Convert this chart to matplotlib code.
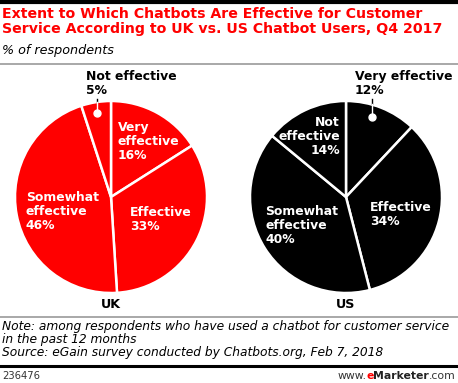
import matplotlib.pyplot as plt
from matplotlib.lines import Line2D

W, H = 458, 383

uk_labels = ["Very\neffective\n16%", "Effective\n33%", "Somewhat\neffective\n46%", "Not effective\n5%"]
uk_values = [16, 33, 46, 5]
us_labels = ["Very effective\n12%", "Effective\n34%", "Somewhat\neffective\n40%", "Not\neffective\n14%"]
us_values = [12, 34, 40, 14]

RED = "#ff0000"


def fx(x):
    return x / W


def fy(y):
    return 1 - y / H


fig = plt.figure(figsize=(W / 100, H / 100), dpi=100)
plt.rcParams["font.family"] = "DejaVu Sans"


def hline(y, color, lw, x0=0, x1=W):
    fig.add_artist(Line2D([fx(x0), fx(x1)], [fy(y), fy(y)], color=color, lw=lw,
                          transform=fig.transFigure))


def draw_pie(cx, cy, r, values, color):
    ax = fig.add_axes([fx(cx - r), fy(cy + r), 2 * r / W, 2 * r / H])
    ax.pie(values, colors=[color] * len(values), startangle=90, counterclock=False,
           wedgeprops=dict(edgecolor="white", linewidth=1.8))
    ax.set_xlim(-1, 1)
    ax.set_ylim(-1, 1)
    ax.set_aspect("auto")
    ax.axis("off")
    return ax


# frame lines
hline(1.5, "black", 3)
hline(64, "#999999", 1.2)
hline(317, "#999999", 1.2)
hline(366, "black", 2.2)

# title
fig.text(fx(2), fy(7), "Extent to Which Chatbots Are Effective for Customer\nService According to UK vs. US Chatbot Users, Q4 2017",
         color=RED, fontsize=10.2, fontweight="bold", va="top", ha="left", linespacing=1.12)
fig.text(fx(2), fy(44), "% of respondents", fontsize=9.2, style="italic", va="top", ha="left")

# pies
uk_cx, uk_cy, r = 111, 197, 96
us_cx, us_cy = 346, 197
draw_pie(uk_cx, uk_cy, r, uk_values, RED)
draw_pie(us_cx, us_cy, r, us_values, "black")

lab = dict(fontsize=8.9, fontweight="bold", va="top", linespacing=1.08)
fig.text(fx(118), fy(121), uk_labels[0], color="white", ha="left", **lab)
fig.text(fx(130), fy(206), uk_labels[1], color="white", ha="left", **lab)
fig.text(fx(26), fy(191), uk_labels[2], color="white", ha="left", **lab)
fig.text(fx(86), fy(70), uk_labels[3], color="black", ha="left", **lab)

fig.text(fx(355), fy(70), us_labels[0], color="black", ha="left", **lab)
fig.text(fx(370), fy(201), us_labels[1], color="white", ha="left", **lab)
fig.text(fx(265), fy(205), us_labels[2], color="white", ha="left", **lab)
fig.text(fx(340), fy(116), us_labels[3], color="white", ha="right", multialignment="right", **lab)

# leader lines to small slices
for x, y0, yedge, yd in [(97, 99, 102, 113), (372, 99, 104, 117)]:
    fig.add_artist(Line2D([fx(x), fx(x)], [fy(y0), fy(yedge)], color="black", lw=1,
                          transform=fig.transFigure))
    fig.add_artist(Line2D([fx(x), fx(x)], [fy(yedge), fy(yd)], color="white", lw=1,
                          transform=fig.transFigure))
    fig.add_artist(Line2D([fx(x)], [fy(yd)], marker="o", markersize=5, color="white",
                          transform=fig.transFigure))

fig.text(fx(uk_cx), fy(298), "UK", fontsize=9.2, fontweight="bold", ha="center", va="top")
fig.text(fx(us_cx), fy(298), "US", fontsize=9.2, fontweight="bold", ha="center", va="top")

# notes
fig.text(fx(2), fy(320), "Note: among respondents who have used a chatbot for customer service\nin the past 12 months\nSource: eGain survey conducted by Chatbots.org, Feb 7, 2018",
         fontsize=8.8, style="italic", va="top", ha="left", linespacing=1.0)
fig.text(fx(2), fy(371), "236476", fontsize=7.2, color="#333333", va="top", ha="left")

# www.eMarketer.com, drawn right to left
renderer = fig.canvas.get_renderer()
x = 456
for part, color, weight in [(".com", "#333333", "normal"), ("Marketer", "#222222", "bold"),
                            ("e", RED, "bold"), ("www.", "#333333", "normal")]:
    t = fig.text(fx(x), fy(371), part, fontsize=7.8, color=color, fontweight=weight,
                 va="top", ha="right")
    x -= t.get_window_extent(renderer).width

fig.savefig("out.png", dpi=100)
